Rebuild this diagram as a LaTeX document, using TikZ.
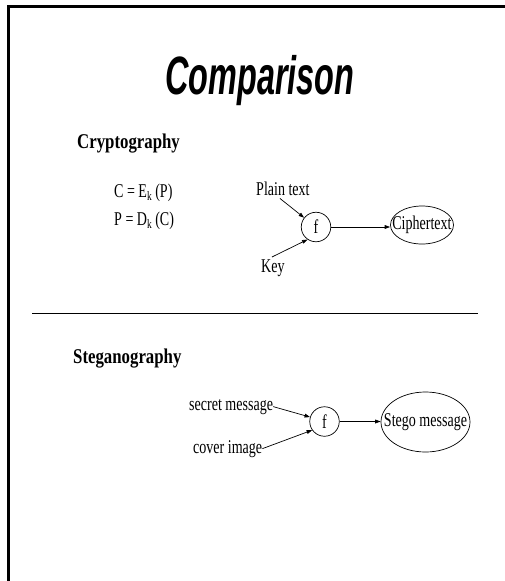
\documentclass[tikz,border=0pt]{standalone}
\usepackage{fontspec}
\setmainfont{Liberation Serif}
\newfontfamily\bodyfont{Liberation Serif}[FakeStretch=0.72]
\newfontfamily\headfont{Liberation Serif}[FakeStretch=0.8]
\newfontfamily\titlefont{Liberation Sans}[FakeStretch=0.6]
\usetikzlibrary{arrows.meta,shapes.geometric}
% lowered subscript letter in running text
\newcommand\lowsub[1]{\raisebox{-3pt}{\fontsize{13}{13}\selectfont #1}}

\begin{document}
\begin{tikzpicture}[x=1pt,y=-1pt,
  slidetitle/.style={font=\titlefont\bfseries\itshape\fontsize{54}{60}\selectfont, inner sep=0, anchor=base},
  heading/.style={font=\headfont\bfseries\fontsize{21}{24}\selectfont, inner sep=0, anchor=base west},
  body/.style={font=\bodyfont\fontsize{19.5}{22}\selectfont, inner sep=0},
  fn/.style={draw, circle, minimum size=29.5pt, inner sep=0, line width=0.7pt,
             font=\bodyfont\fontsize{19.5}{22}\selectfont},
  outbox/.style={draw, ellipse, inner sep=0, line width=0.7pt},
  arr/.style={line width=0.7pt, -{Triangle[length=5.5pt,width=3.8pt]}},
  frame/.style={line width=2.6pt, line cap=butt},
]
\useasboundingbox (0,0) rectangle (505,581);

% slide frame (top and left edges)
\draw[frame] (8.5,581) -- (8.5,6.5) -- (505,6.5);

% title
\node[slidetitle] (ttl) at (260,94) {Comparison};

% ---- cryptography ----
\node[heading] (crh) at (77,148) {Cryptography};
\node[body, anchor=base west] (eq1) at (114,197) {C = E\lowsub{k} (P)};
\node[body, anchor=base west] (eq2) at (114,225) {P = D\lowsub{k} (C)};

\node[body, anchor=base west] (pt) at (256,195) {Plain text};
\node[body, anchor=base west] (key) at (261,272) {Key};
\node[fn] (f1) at (316,227) {f};
\node[outbox, minimum width=63pt, minimum height=38pt] (ct) at (422,225) {};
\node[body] (ctt) at (ct.center) {Ciphertext};

\draw[arr] ([xshift=-3pt,yshift=-3pt]pt.south) -- (f1.142);
\draw[arr] ([xshift=-1pt,yshift=2pt]key.north) -- (f1.-124);
\draw[arr] (f1.east) -- (f1.east -| ct.west);

% separator
\draw[line width=0.9pt] (32,313) coordinate (sepl) -- (478,313) coordinate (sepr);

% ---- steganography ----
\node[heading] (sth) at (73,363) {Steganography};

\node[body, anchor=base west] (sm) at (189,410) {secret message};
\node[body, anchor=base west] (ci) at (193,453) {cover image};
\node[fn] (f2) at (324.5,421.5) {f};
\node[outbox, minimum width=89pt, minimum height=60pt] (sg) at (425.5,422) {};
\node[body] (sgt) at (sg.center) {Stego message};

\draw[arr] (sm.east) -- (f2.163);
\draw[arr] (ci.east) -- (f2.-145);
\draw[arr] (f2.east) -- (f2.east -| sg.west);
\end{tikzpicture}
\end{document}
